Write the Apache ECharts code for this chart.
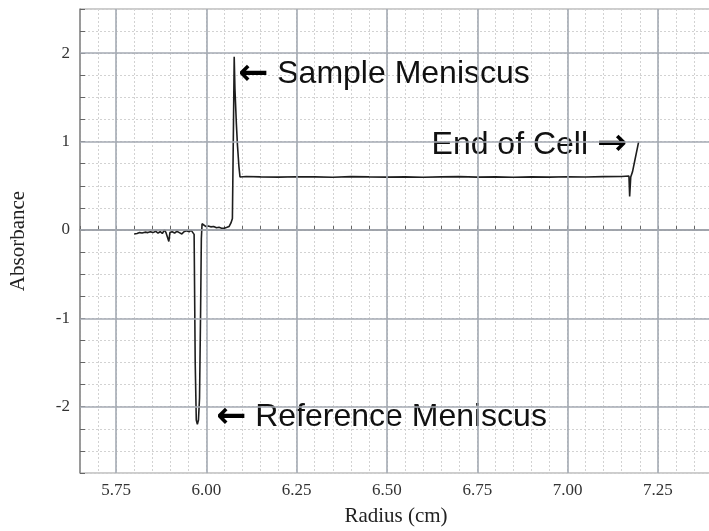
<!DOCTYPE html>
<html>
<head>
<meta charset="utf-8">
<script src="https://cdn.jsdelivr.net/npm/echarts@6/dist/echarts.min.js"></script>
<style>html,body{margin:0;padding:0;background:#fff;}#c{width:709px;height:531px;}</style>
</head>
<body>
<div id="c"></div>
<script>
// ---- data ----
const radius = [5.800,5.808,5.815,5.822,5.830,5.838,5.845,5.852,5.860,5.866,5.872,5.878,5.884,5.888,5.892,5.896,5.899,5.905,5.912,5.918,5.925,5.932,5.938,5.945,5.952,5.958,5.963,5.966,5.969,5.972,5.975,5.978,5.981,5.984,5.986,5.988,5.993,5.998,6.005,6.012,6.020,6.028,6.035,6.042,6.050,6.057,6.063,6.068,6.072,6.075,6.077,6.079,6.083,6.086,6.090,6.093,6.110,6.150,6.200,6.250,6.300,6.350,6.400,6.450,6.500,6.550,6.600,6.650,6.700,6.750,6.800,6.850,6.900,6.950,7.000,7.050,7.100,7.150,7.170,7.172,7.173,7.175,7.180,7.186,7.197];
const absorbance = [-0.045,-0.040,-0.030,-0.035,-0.025,-0.030,-0.020,-0.030,-0.015,-0.035,-0.020,-0.040,0.000,-0.030,-0.010,-0.130,-0.030,-0.020,-0.035,-0.015,-0.030,-0.045,-0.020,-0.010,-0.020,-0.005,-0.020,-0.050,-1.500,-2.150,-2.200,-2.150,-1.900,-0.900,-0.100,0.070,0.050,0.040,0.045,0.035,0.040,0.025,0.030,0.020,0.020,0.030,0.040,0.080,0.130,1.200,1.960,1.600,1.200,0.960,0.720,0.600,0.605,0.600,0.598,0.602,0.600,0.596,0.603,0.600,0.598,0.601,0.597,0.600,0.603,0.598,0.600,0.596,0.601,0.598,0.602,0.599,0.603,0.605,0.610,0.380,0.380,0.600,0.660,0.780,1.000];
const majorX = [5.75, 6.00, 6.25, 6.50, 6.75, 7.00, 7.25];
const majorY = [-2, -1, 0, 1, 2];
const annoX = [6.088, 6.027, 7.165];
const annoY = [1.76, -2.12, 0.96];
const annoText = ['{a|\u2190}{t| Sample Meniscus}', '{a|\u2190}{t| Reference Meniscus}', '{t|End of Cell }{a|\u2192}'];
const annoPos = ['right', 'right', 'left'];

const chart = echarts.init(document.getElementById('c'), null, {renderer: 'canvas'});
const serif = '"Liberation Serif", "DejaVu Serif", serif';
const sans = '"Liberation Sans", Arial, sans-serif';

const markData = majorX.map(v => ({xAxis: v})).concat(majorY.map(v => ({yAxis: v})));

chart.setOption({
  animation: false,
  backgroundColor: '#ffffff',
  grid: {left: 80, top: 9, width: 632, height: 464, show: true, borderColor: '#9a9a9a', borderWidth: 1,
         containLabel: false, outerBoundsMode: 'none'},
  xAxis: {
    type: 'value', min: 5.65, max: 7.40, interval: 0.05,
    name: 'Radius (cm)', nameLocation: 'middle', nameGap: 33,
    nameTextStyle: {fontFamily: serif, fontSize: 21, color: '#222'},
    axisLine: {show: true, lineStyle: {color: '#777', width: 1.5}},
    axisTick: {show: true, inside: true, length: 4, lineStyle: {color: '#666'}},
    axisLabel: {
      fontFamily: serif, fontSize: 17, color: '#333', margin: 9,
      formatter: v => (Math.abs(v * 4 - Math.round(v * 4)) < 1e-6 ? v.toFixed(2) : '')
    },
    splitLine: {show: true, lineStyle: {color: '#d2d2d2', type: [2, 2], width: 1}}
  },
  yAxis: {
    type: 'value', min: -2.75, max: 2.5, interval: 0.25,
    name: 'Absorbance', nameLocation: 'middle', nameGap: 51, nameRotate: 90,
    nameTextStyle: {fontFamily: serif, fontSize: 21, color: '#222'},
    axisLine: {show: true, lineStyle: {color: '#888', width: 1.5}},
    axisTick: {show: true, inside: true, length: 5, lineStyle: {color: '#666'}},
    axisLabel: {
      fontFamily: serif, fontSize: 17, color: '#333', margin: 10,
      formatter: v => (Math.abs(v - Math.round(v)) < 1e-6 ? String(Math.round(v)) : '')
    },
    splitLine: {show: true, lineStyle: {color: '#d2d2d2', type: [2, 2], width: 1}}
  },
  series: [
    {
      type: 'line', name: 'grid', data: [], silent: true, z: 1,
      markLine: {
        silent: true, symbol: 'none', label: {show: false},
        lineStyle: {color: '#a4aab3', width: 1.6, type: 'solid'},
        data: markData, animation: false
      }
    },
    {
      type: 'line', name: 'Absorbance', z: 3,
      data: radius.map((r, i) => [r, absorbance[i]]),
      showSymbol: false, symbol: 'none',
      lineStyle: {color: '#1e1e1e', width: 1.6},
      silent: true
    },
    {
      type: 'scatter', name: 'notes', symbolSize: 0, silent: true, z: 4,
      itemStyle: {color: '#000', opacity: 1},
      data: annoX.map((x, i) => ({
        value: [x, annoY[i]],
        label: {show: true, position: annoPos[i], distance: 0, formatter: annoText[i]}
      })),
      label: {
        color: '#000', opacity: 1, textBorderWidth: 0,
        rich: {
          a: {fontFamily: '"DejaVu Sans", sans-serif', fontWeight: 'bold', fontSize: 36, color: '#000', textBorderWidth: 0},
          t: {fontFamily: sans, fontSize: 32, color: '#111', textBorderWidth: 0}
        }
      }
    }
  ]
});
</script>
</body>
</html>
